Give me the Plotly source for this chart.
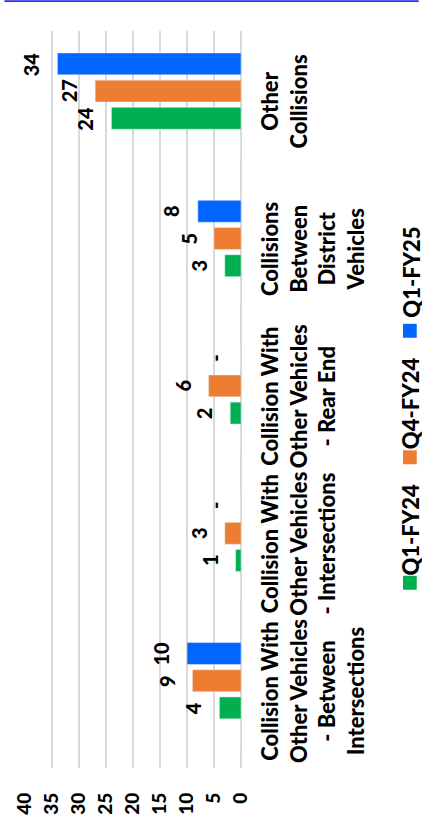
import plotly.graph_objects as go

# Collision counts by type and quarter
categories = [
    "Collision With<br>Other Vehicles<br>- Between<br>Intersections",
    "Collision With<br>Other Vehicles<br>- Intersections",
    "Collision With<br>Other Vehicles<br>- Rear End",
    "Collisions<br>Between<br>District<br>Vehicles",
    "Other<br>Collisions",
]
series_names = ["Q1-FY24", "Q4-FY24", "Q1-FY25"]
q1_fy24 = [4, 1, 2, 3, 24]
q4_fy24 = [9, 3, 6, 5, 27]
q1_fy25 = [10, 0, 0, 8, 34]
value_ticks = [0, 5, 10, 15, 20, 25, 30, 35, 40]

colors = ["#00b050", "#ed7d31", "#0066ff"]
FONT = "Lato"
WEIGHT = 900
W, H = 422, 827
ML, MR, MT, MB = 21, 181, 31, 56
BARGAP, GROUPGAP = 0.262, 0.195
PW = W - ML - MR
PH = H - MT - MB


def px_x(p):
    return (p - ML) / PW


def px_y(p):
    return (H - MB - p) / PH


fig = go.Figure()

# empty leading slot in each group (keeps the group layout of the source workbook)
fig.add_trace(go.Bar(
    x=[0] * len(categories), y=list(range(len(categories))), orientation="h",
    marker_color="rgba(0,0,0,0)", showlegend=False, hoverinfo="skip",
))
all_series = [q1_fy24, q4_fy24, q1_fy25]
for name, vals, col in zip(series_names, all_series, colors):
    fig.add_trace(go.Bar(
        x=vals, y=list(range(len(categories))), orientation="h", name=name,
        marker_color=col, showlegend=False,
    ))

# value labels at the end of each bar
n_slots = 4
slot = (1 - BARGAP) / n_slots
annotations = []
for k, vals in enumerate(all_series, start=1):
    off = (k - (n_slots - 1) / 2) * slot
    for i, v in enumerate(vals):
        annotations.append(dict(
            x=v, y=i + off, xref="x", yref="y",
            text=str(v) if v else "-", textangle=-90,
            xanchor="right", yanchor="middle", xshift=-12, showarrow=False,
            font=dict(family=FONT, size=20, color="#000000", weight=WEIGHT),
        ))

# legend drawn as rotated text with colour swatches
legend_items = [
    ("Q1-FY24", colors[0], 532, 578),
    ("Q4-FY24", colors[1], 405, 452),
    ("Q1-FY25", colors[2], 273, 325),
]
shapes = []
for name, col, text_mid, sw_top in legend_items:
    annotations.append(dict(
        x=px_x(398), y=px_y(text_mid), xref="paper", yref="paper",
        text=name, textangle=-90, xanchor="left", yanchor="middle",
        showarrow=False,
        font=dict(family=FONT, size=22, color="#000000", weight=WEIGHT),
    ))
    shapes.append(dict(
        type="rect", xref="paper", yref="paper",
        x0=px_x(406), x1=px_x(420), y0=px_y(sw_top + 14), y1=px_y(sw_top),
        fillcolor=col, line=dict(width=0),
    ))

# thin blue rule along the top edge
shapes.append(dict(
    type="rect", xref="paper", yref="paper",
    x0=px_x(0), x1=px_x(W), y0=px_y(2), y1=px_y(0),
    fillcolor="#2a2af5", line=dict(width=0),
))

fig.update_layout(
    width=W, height=H,
    margin=dict(l=ML, r=MR, t=MT, b=MB, pad=0),
    paper_bgcolor="white", plot_bgcolor="white",
    barmode="group", bargap=BARGAP, bargroupgap=GROUPGAP,
    showlegend=False,
    annotations=annotations, shapes=shapes,
    xaxis=dict(
        range=[40, 0], tickvals=value_ticks, ticktext=[str(t) for t in value_ticks],
        showgrid=True, gridcolor="#d9d9d9", gridwidth=1.5,
        zeroline=True, zerolinecolor="#d9d9d9", zerolinewidth=1.5,
        showline=False, ticks="", tickangle=-90, ticklabelstandoff=20,
        tickfont=dict(family=FONT, size=19, color="#000000", weight=WEIGHT),
        fixedrange=True,
    ),
    yaxis=dict(
        range=[-0.5, len(categories) - 0.5],
        tickvals=list(range(len(categories))), ticktext=categories,
        side="right", showgrid=False, zeroline=False, showline=False, ticks="",
        tickangle=-90, ticklabelstandoff=14,
        tickfont=dict(family=FONT, size=22, color="#000000", weight=WEIGHT),
        fixedrange=True,
    ),
)

fig.write_html("out.html")
